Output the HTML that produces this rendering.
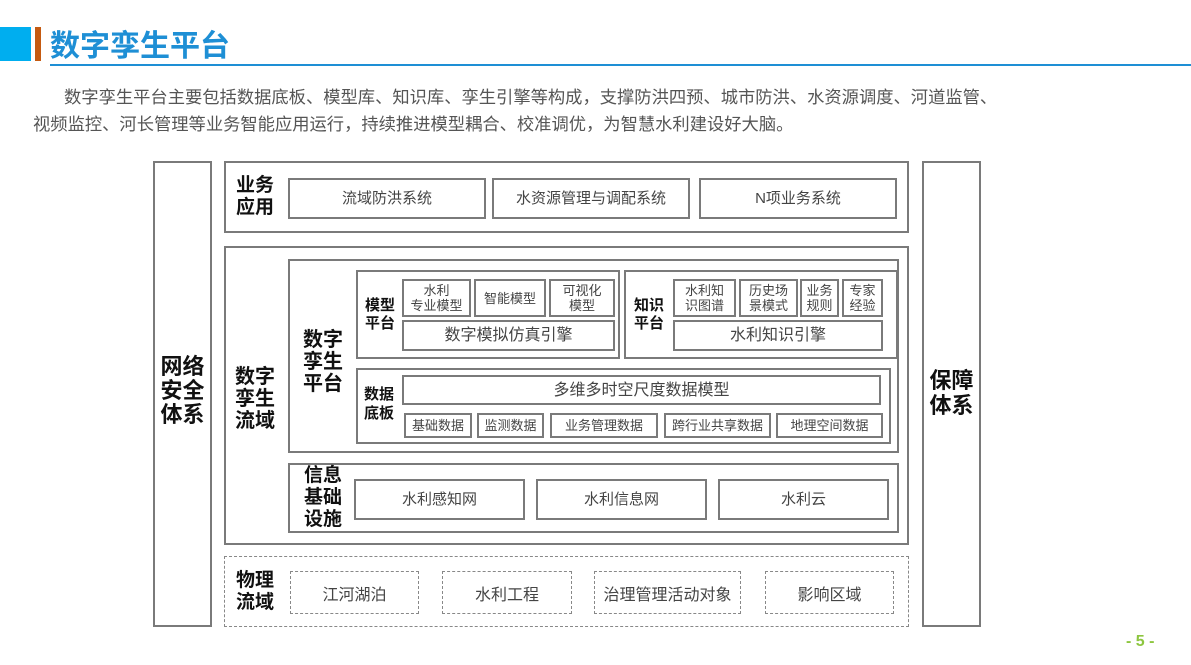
<!DOCTYPE html>
<html><head><meta charset="utf-8">
<style>
*{margin:0;padding:0;box-sizing:border-box}
body{width:1191px;height:665px;background:#fff;position:relative;overflow:hidden;font-family:"Liberation Sans","Noto Sans CJK SC",sans-serif;color:#333}
.a{position:absolute}
.b{position:absolute;border:2px solid #7a7a7a;display:flex;align-items:center;justify-content:center;text-align:center;font-size:15px;color:#444;line-height:17px}
.t{position:absolute;font-weight:bold;color:#111;text-align:center}
.d{position:absolute;border:1.5px dashed #888;display:flex;align-items:center;justify-content:center;font-size:16px;color:#444}
.s{font-size:13px;line-height:15px}
.p{position:absolute;font-size:17.3px;color:#555;line-height:27px;white-space:nowrap}
</style></head><body>
<div class="a" style="left:0;top:27px;width:31px;height:34px;background:#00aeef"></div>
<div class="a" style="left:35px;top:27px;width:6px;height:34px;background:#c55a11"></div>
<div class="a" style="left:50px;top:29px;font-size:30px;font-weight:bold;color:#1e8fd5;line-height:36px">数字孪生平台</div>
<div class="a" style="left:50px;top:64px;width:1141px;height:2px;background:#1e8fd5"></div>
<div class="p" style="left:64px;top:84px">数字孪生平台主要包括数据底板、模型库、知识库、孪生引擎等构成，支撑防洪四预、城市防洪、水资源调度、河道监管、</div>
<div class="p" style="left:33px;top:111px">视频监控、河长管理等业务智能应用运行，持续推进模型耦合、校准调优，为智慧水利建设好大脑。</div>

<div class="b" style="left:153px;top:161px;width:59px;height:466px"></div>
<div class="t" style="left:153px;top:355px;width:59px;font-size:22px;line-height:24px">网络<br>安全<br>体系</div>
<div class="b" style="left:922px;top:161px;width:59px;height:466px"></div>
<div class="t" style="left:922px;top:368px;width:59px;font-size:22px;line-height:25px">保障<br>体系</div>

<div class="b" style="left:224px;top:161px;width:685px;height:72px"></div>
<div class="t" style="left:228px;top:175px;width:54px;font-size:19px;line-height:22px">业务<br>应用</div>
<div class="b" style="left:288px;top:178px;width:198px;height:41px">流域防洪系统</div>
<div class="b" style="left:492px;top:178px;width:198px;height:41px">水资源管理与调配系统</div>
<div class="b" style="left:699px;top:178px;width:198px;height:41px">N项业务系统</div>

<div class="b" style="left:224px;top:246px;width:685px;height:299px"></div>
<div class="t" style="left:228px;top:366px;width:54px;font-size:20px;line-height:22px">数字<br>孪生<br>流域</div>
<div class="b" style="left:288px;top:259px;width:611px;height:194px"></div>
<div class="t" style="left:296px;top:329px;width:54px;font-size:20px;line-height:22px">数字<br>孪生<br>平台</div>

<div class="b" style="left:356px;top:270px;width:264px;height:89px"></div>
<div class="t" style="left:359px;top:297px;width:42px;font-size:15px;line-height:18px">模型<br>平台</div>
<div class="b s" style="left:402px;top:279px;width:69px;height:38px">水利<br>专业模型</div>
<div class="b s" style="left:474px;top:279px;width:72px;height:38px">智能模型</div>
<div class="b s" style="left:549px;top:279px;width:66px;height:38px">可视化<br>模型</div>
<div class="b" style="left:402px;top:320px;width:213px;height:31px;font-size:16px">数字模拟仿真引擎</div>

<div class="b" style="left:624px;top:270px;width:274px;height:89px"></div>
<div class="t" style="left:628px;top:297px;width:42px;font-size:15px;line-height:18px">知识<br>平台</div>
<div class="b s" style="left:673px;top:279px;width:63px;height:38px">水利知<br>识图谱</div>
<div class="b s" style="left:739px;top:279px;width:59px;height:38px">历史场<br>景模式</div>
<div class="b s" style="left:800px;top:279px;width:39px;height:38px">业务<br>规则</div>
<div class="b s" style="left:842px;top:279px;width:41px;height:38px">专家<br>经验</div>
<div class="b" style="left:673px;top:320px;width:210px;height:31px;font-size:16px">水利知识引擎</div>

<div class="b" style="left:356px;top:368px;width:535px;height:76px"></div>
<div class="t" style="left:358px;top:385px;width:42px;font-size:15px;line-height:19px">数据<br>底板</div>
<div class="b" style="left:402px;top:375px;width:479px;height:30px;font-size:16px">多维多时空尺度数据模型</div>
<div class="b s" style="left:404px;top:413px;width:68px;height:25px">基础数据</div>
<div class="b s" style="left:477px;top:413px;width:67px;height:25px">监测数据</div>
<div class="b s" style="left:550px;top:413px;width:108px;height:25px">业务管理数据</div>
<div class="b s" style="left:664px;top:413px;width:107px;height:25px">跨行业共享数据</div>
<div class="b s" style="left:776px;top:413px;width:107px;height:25px">地理空间数据</div>

<div class="b" style="left:288px;top:463px;width:611px;height:70px"></div>
<div class="t" style="left:296px;top:465px;width:54px;font-size:19px;line-height:22px">信息<br>基础<br>设施</div>
<div class="b" style="left:354px;top:479px;width:171px;height:41px">水利感知网</div>
<div class="b" style="left:536px;top:479px;width:171px;height:41px">水利信息网</div>
<div class="b" style="left:718px;top:479px;width:171px;height:41px">水利云</div>

<div class="d" style="left:224px;top:556px;width:685px;height:71px"></div>
<div class="t" style="left:228px;top:570px;width:54px;font-size:19px;line-height:22px">物理<br>流域</div>
<div class="d" style="left:290px;top:571px;width:129px;height:43px">江河湖泊</div>
<div class="d" style="left:442px;top:571px;width:130px;height:43px">水利工程</div>
<div class="d" style="left:594px;top:571px;width:147px;height:43px">治理管理活动对象</div>
<div class="d" style="left:765px;top:571px;width:129px;height:43px">影响区域</div>

<div class="a" style="left:1126px;top:633px;font-size:16px;font-weight:bold;color:#8dc63f">- 5 -</div>
</body></html>
